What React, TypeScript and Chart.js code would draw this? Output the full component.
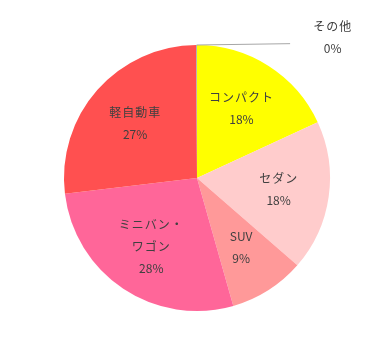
import React, { useEffect, useRef } from "react";
import { Chart, registerables } from "chart.js";

Chart.register(...registerables);

const categories: string[] = ["コンパクト", "セダン", "SUV", "ミニバン・\nワゴン", "軽自動車", "その他"];
const shares: number[] = [18.1, 18.3, 9.2, 27.5, 26.8, 0.1];
const colors: string[] = ["#FFFF00", "#FFCCCC", "#FF9999", "#FF6699", "#FF5050", "#A5A5A5"];

const FONT = "'Noto Sans CJK JP', 'Noto Sans', sans-serif";

const labelPlugin = {
  id: "sliceLabels",
  afterDatasetsDraw(chart: any) {
    const ctx = chart.ctx;
    const meta = chart.getDatasetMeta(0);
    const data = chart.data.datasets[0].data as number[];
    const total = data.reduce((a: number, b: number) => a + b, 0);
    ctx.save();
    ctx.fillStyle = "#404040";
    ctx.font = `12px ${FONT}`;
    ctx.textAlign = "center";
    ctx.textBaseline = "middle";
    const draw = (t: string, x: number, y: number) => {
      const cjk = /[^\x00-\x7F]/.test(t);
      try { (ctx as any).letterSpacing = cjk ? "1px" : "0px"; } catch (e) {}
      ctx.fillText(t, x, y);
    };
    meta.data.forEach((arc: any, i: number) => {
      const p = arc.getProps(["startAngle", "endAngle", "outerRadius", "x", "y"], true);
      const mid = (p.startAngle + p.endAngle) / 2;
      const pct = Math.round((data[i] / total) * 100) + "%";
      const lines = String(chart.data.labels[i]).split("\n").concat([pct]);
      const lh = 22;
      if (data[i] / total < 0.02) {
        const sx = p.x + Math.cos(mid) * p.outerRadius;
        const sy = p.y + Math.sin(mid) * p.outerRadius;
        const ex = p.x + p.outerRadius * 0.70;
        const ey = p.y - p.outerRadius * 1.01;
        ctx.strokeStyle = "#A6A6A6";
        ctx.lineWidth = 1;
        ctx.beginPath();
        ctx.moveTo(sx, sy);
        ctx.lineTo(ex, ey);
        ctx.stroke();
        const lx = p.x + p.outerRadius * 1.02;
        const ly = p.y - p.outerRadius * 1.06;
        lines.forEach((t: string, k: number) => {
          draw(t, lx, ly + (k - (lines.length - 1) / 2) * lh);
        });
        return;
      }
      const r = p.outerRadius * 0.62;
      const cx = p.x + Math.cos(mid) * r;
      const cy = p.y + Math.sin(mid) * r;
      lines.forEach((t: string, k: number) => {
        draw(t, cx, cy + (k - (lines.length - 1) / 2) * lh);
      });
    });
    ctx.restore();
  },
};

export default function App() {
  const ref = useRef<HTMLCanvasElement | null>(null);
  useEffect(() => {
    if (!ref.current) return;
    const chart = new Chart(ref.current, {
      type: "pie",
      data: {
        labels: categories,
        datasets: [
          {
            data: shares,
            backgroundColor: colors,
            borderWidth: 0,
          },
        ],
      },
      options: {
        animation: false,
        responsive: false,
        maintainAspectRatio: false,
        layout: { padding: { left: 64, right: 49, top: 45, bottom: 41 } },
        plugins: {
          legend: { display: false },
          tooltip: { enabled: false },
        },
      },
      plugins: [labelPlugin],
    });
    return () => chart.destroy();
  }, []);
  return (
    <div style={{ position: "fixed", left: 0, top: 0, width: 379, height: 352, background: "#fff" }}>
      <canvas ref={ref} width={379} height={352} style={{ width: 379, height: 352 }} />
    </div>
  );
}
